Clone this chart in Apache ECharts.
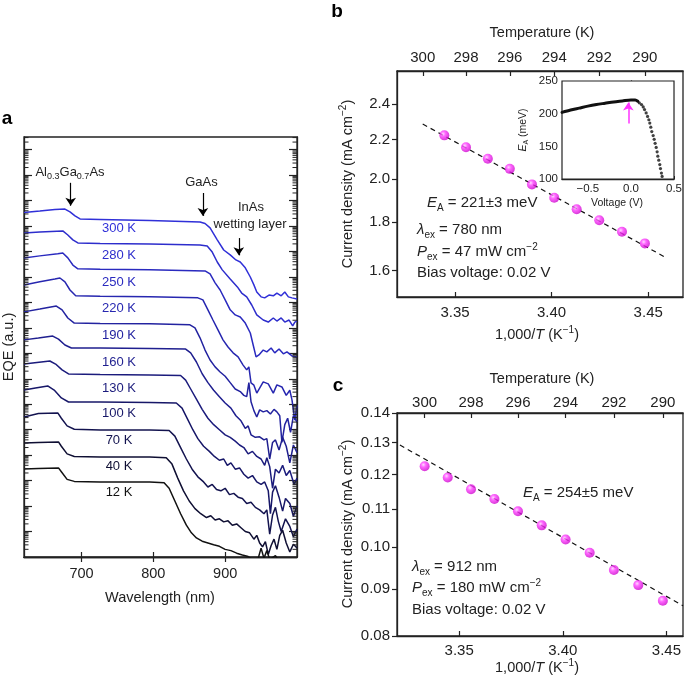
<!DOCTYPE html>
<html><head><meta charset="utf-8">
<script src="https://cdn.jsdelivr.net/npm/echarts@6/dist/echarts.min.js"></script>
<style>html,body{margin:0;padding:0;background:#fff}#c{width:685px;height:685px}</style>
</head><body><div id="c"></div>
<script>
// ---------- Panel a: EQE spectra (log10 EQE, curves offset by decades) ----------
const eqeLabels = ['300 K','280 K','250 K','220 K','190 K','160 K','130 K','100 K','70 K','40 K','12 K'];
const waveTicks = [700, 800, 900];
const eqeDecades = [1,2,3,4,5,6,7,8,9,10,11,12,13,14,15,16];
const minorMultipliers = [2,3,4,5,6,7,8,9];
const eqe300 = [[620,13.53],[642,13.59],[663,13.65],[677,13.67],[684,13.56],[691,13.40],[698,13.28],[726,13.26],[795,13.22],[865,13.16],[872,13.10],[879,12.93],[889,12.46],[898,12.06],[907,11.87],[915,11.67],[921,11.59],[928,11.36],[935,11.00],[940,10.69],[944,10.41],[950,10.22],[955,10.18],[961,10.29],[967,10.26],[972,10.37],[978,10.26],[983,10.41],[988,10.22],[993,10.18],[1000,10.14]];
const eqe280 = [[620,12.73],[642,12.77],[674,12.81],[681,12.65],[688,12.46],[695,12.34],[726,12.32],[795,12.30],[865,12.26],[875,12.22],[882,11.98],[889,11.59],[896,11.28],[907,10.92],[917,10.61],[923,10.37],[930,10.22],[937,9.90],[944,9.51],[953,9.31],[960,9.23],[967,9.39],[972,9.27],[978,9.39],[983,9.23],[989,9.31],[994,9.08],[997,9.23],[1000,9.27]];
const eqe250 = [[620,11.75],[642,11.83],[667,11.91],[674,11.94],[681,11.75],[688,11.47],[695,11.32],[726,11.30],[795,11.28],[872,11.24],[879,11.12],[886,10.77],[893,10.49],[900,10.10],[907,9.71],[914,9.51],[921,9.43],[928,9.19],[935,8.80],[939,8.33],[943,7.86],[947,7.94],[953,8.13],[958,8.06],[964,8.21],[969,8.02],[975,8.17],[981,7.98],[986,8.06],[993,7.90],[1000,7.86]];
const eqe220 = [[620,10.69],[642,10.81],[663,10.92],[670,10.96],[677,10.81],[684,10.49],[692,10.26],[726,10.24],[795,10.22],[862,10.18],[869,10.10],[876,9.71],[883,9.31],[890,8.92],[897,8.53],[904,8.25],[911,8.02],[918,7.86],[925,7.54],[930,7.35],[933,7.47],[936,6.84],[940,6.75],[944,6.44],[953,6.88],[960,6.80],[967,6.44],[972,6.76],[979,6.68],[985,6.35],[990,6.55],[993,6.17],[997,5.38],[1000,5.97]];
const eqe190 = [[620,9.63],[642,9.74],[665,9.86],[673,9.71],[681,9.39],[690,9.19],[726,9.17],[795,9.16],[851,9.12],[858,9.00],[865,8.61],[872,8.13],[879,7.74],[886,7.47],[893,7.27],[900,7.10],[907,6.85],[914,6.60],[921,6.50],[926,6.35],[930,6.30],[933,6.85],[936,6.10],[940,5.75],[944,5.50],[948,5.78],[953,5.70],[958,5.75],[963,5.62],[968,5.80],[972,5.70],[976,5.55],[979,4.50],[983,5.20],[987,5.45],[991,4.90],[995,5.55],[1000,5.30]];
const eqe160 = [[620,8.53],[640,8.60],[660,8.68],[668,8.56],[677,8.33],[686,8.21],[726,8.21],[795,8.19],[845,8.17],[852,8.02],[860,7.66],[868,7.20],[876,6.85],[884,6.55],[892,6.30],[900,6.05],[908,5.85],[915,5.55],[922,5.35],[928,5.05],[932,5.15],[936,4.80],[942,4.70],[948,4.72],[954,4.60],[958,4.65],[962,3.85],[966,4.50],[970,4.60],[975,4.20],[980,4.70],[985,4.35],[990,3.70],[995,4.40],[1000,4.10]];
const eqe130 = [[620,7.58],[638,7.64],[656,7.70],[664,7.58],[673,7.35],[682,7.19],[726,7.17],[795,7.15],[838,7.13],[845,6.95],[852,6.60],[860,6.20],[868,5.80],[876,5.45],[884,5.20],[892,5.00],[900,4.80],[907,4.70],[914,4.55],[920,4.40],[926,4.30],[932,4.05],[938,4.15],[944,3.95],[950,3.85],[955,3.60],[958,3.90],[962,3.55],[966,2.70],[970,3.45],[975,3.30],[980,3.60],[985,3.20],[990,3.40],[996,2.85],[1000,3.10]];
const eqe100 = [[620,6.56],[636,6.64],[653,6.72],[662,6.56],[672,6.25],[682,6.09],[726,6.09],[795,6.07],[832,6.05],[840,5.85],[848,5.40],[855,5.00],[862,4.65],[870,4.35],[878,4.15],[885,3.95],[892,3.80],[898,3.85],[903,3.60],[908,3.70],[914,3.45],[920,3.50],[926,3.25],[932,3.10],[938,3.20],[944,2.95],[950,2.85],[955,2.95],[960,2.60],[963,1.70],[966,2.55],[970,2.80],[975,2.35],[980,1.80],[984,2.30],[990,2.10],[995,1.60],[1000,2.00]];
const eqe70 = [[620,5.50],[640,5.64],[667,5.66],[672,5.45],[680,5.15],[690,5.02],[726,4.99],[795,4.99],[822,4.97],[830,4.75],[838,4.30],[846,3.85],[854,3.45],[862,3.15],[870,2.95],[876,2.75],[882,2.85],[888,2.65],[894,2.60],[900,2.70],[906,2.45],[912,2.50],[918,2.35],[924,2.30],[930,2.10],[936,2.15],[942,1.95],[948,1.85],[954,1.70],[958,1.85],[962,0.90],[966,1.65],[970,1.95],[974,1.40],[978,1.00],[984,1.50],[990,1.20],[995,0.80],[1000,1.10]];
const eqe40 = [[620,4.48],[640,4.50],[668,4.52],[672,4.35],[680,4.05],[690,3.95],[726,3.93],[795,3.93],[818,3.90],[826,3.65],[834,3.10],[842,2.60],[850,2.20],[858,1.90],[866,1.70],[874,1.55],[880,1.62],[886,1.45],[892,1.50],[898,1.38],[904,1.42],[910,1.25],[916,1.30],[922,1.15],[928,1.00],[934,0.95],[940,0.70],[944,0.85],[948,0.55],[952,0.40],[956,0.60],[960,0.10],[964,0.45],[968,0.70],[972,0.30],[976,0.85],[980,1.05],[985,0.55],[990,0.20],[995,0.50],[1000,0.35]];
const eqe12 = [[620,3.46],[640,3.48],[668,3.50],[672,3.35],[680,3.05],[690,2.97],[726,2.95],[795,2.95],[815,2.92],[822,2.70],[830,2.20],[838,1.70],[846,1.25],[853,0.95],[860,0.75],[868,0.62],[876,0.55],[884,0.48],[892,0.42],[900,0.30],[908,0.25],[916,0.15],[924,0.08],[932,0.02],[938,-0.10],[946,-0.05],[950,0.35],[954,-0.05],[958,0.25],[962,-0.10],[970,0.05],[976,-0.20]];
const eqeCurves = [eqe300, eqe280, eqe250, eqe220, eqe190, eqe160, eqe130, eqe100, eqe70, eqe40, eqe12];

// ---------- Panel b ----------
const bTemps = [299,298,297,296,295,294,293,292,291,290];
const bCurrent = [2.223,2.160,2.100,2.049,1.973,1.910,1.857,1.808,1.758,1.709];
const bFit = [[3.3333,2.285],[3.4596,1.649]];
const bYTicks = [1.6,1.8,2.0,2.2,2.4];
const invTTicks = [3.35,3.40,3.45];
const tempTicks = [300,298,296,294,292,290];
// inset: activation energy vs voltage
const insetLineV = [-0.8,-0.7,-0.6,-0.5,-0.4,-0.3,-0.2,-0.1,0.0,0.05,0.08];
const insetLineEA = [202,205.5,208.5,211.5,214,216,218,219.5,221,221,219];
const insetDotV = [0.097,0.123,0.143,0.158,0.177,0.193,0.208,0.219,0.231,0.242,0.258,0.270,0.281,0.293,0.304,0.312,0.323,0.335,0.343,0.354,0.362];
const insetDotEA = [216.6,213.9,210.3,206.2,201.1,195.8,190.7,185.6,179.4,172.6,166.4,160.8,154.6,148.4,141.6,134.9,128.8,122.1,115.9,109.1,104];
const insetXTicks = [-0.5,0,0.5];

// ---------- Panel c ----------
const cTemps = [300,299,298,297,296,295,294,293,292,291,290];
const cCurrent = [0.1225,0.1191,0.1156,0.1128,0.1094,0.1056,0.1019,0.0986,0.0944,0.0909,0.0874];
const cFit = [[3.3214,0.1292],[3.458,0.0863]];
const cYTicks = [0.08,0.09,0.10,0.11,0.12,0.13,0.14];

// ---------- styling ----------
const FF = '"Liberation Sans", Arial, Helvetica, sans-serif';
const INK = '#222';
const eqeColors = ['#3030d8','#2d2dcc','#2a2abf','#2727b0','#2323a0','#1f1f8f','#1b1b7c','#171768','#13134f','#0f0f33','#111111'];
const labelY = [228,255,282,308,335,362,388,413,440,466,492];

function rich(fs, color){
  const s = Math.round(fs*0.68), sl = Math.round(fs*0.68), lh = Math.round(fs*1.35);
  return {
    i:{fontStyle:'italic', fontSize:fs, fontFamily:FF, lineHeight:lh, fill:color},
    sub:{fontSize:s, fontFamily:FF, verticalAlign:'bottom', lineHeight:sl, fill:color},
    sup:{fontSize:s, fontFamily:FF, verticalAlign:'top', lineHeight:sl, fill:color}
  };
}
function T(x, y, text, o){
  o = o || {};
  const fs = o.fs || 15, col = o.color || INK;
  return {type:'text', x:x, y:y, rotation:o.rot||0, z:100, silent:true,
    style:{text:text, fill:col, fontFamily:FF, fontSize:fs, fontWeight:o.fw||'normal',
      align:o.align||'center', verticalAlign:'middle', lineHeight:Math.round(fs*1.35), rich:rich(fs,col)}};
}
const axLine = {show:true, lineStyle:{color:INK, width:1.3}};
const lbl = (fs, margin, extra) => Object.assign({color:INK, fontFamily:FF, fontSize:fs, margin:margin}, extra||{});
const log = Math.log10;

// log-style minor tick positions of panel a (in decades)
const minorTicks = [];
[0].concat(eqeDecades).forEach(n => minorMultipliers.forEach(m => { const v = n + log(m); if (v < 16.5) minorTicks.push(v); }));

const sphere = {type:'radial', x:0.38, y:0.35, r:0.7, colorStops:[{offset:0,color:'#ffd0ff'},{offset:0.35,color:'#ff40ff'},{offset:1,color:'#c800c8'}]};

const series = [];
eqeCurves.forEach((c, i) => {
  series.push({type:'line', xAxisIndex:0, yAxisIndex:0, data:c, showSymbol:false, symbol:'none',
    lineStyle:{color:eqeColors[i], width:1.5}, clip:true, z:3,
    markLine: i === 0 ? {silent:true, symbol:['none','arrow'], symbolSize:8, label:{show:false},
      lineStyle:{color:'#000', width:1.2, type:'solid'},
      data:[[{coord:[685,14.70]},{coord:[685,13.80]}],[{coord:[869,14.30]},{coord:[869,13.40]}],[{coord:[919,12.53]},{coord:[919,11.85]}]]} : undefined});
});
// minor (log-spaced) ticks on both sides of panel a
series.push({type:'custom', xAxisIndex:0, yAxisIndex:0, silent:true, clip:false, z:4,
  data:minorTicks.map(v=>[620, v]),
  renderItem:(params, api) => {
    const v = api.value(1);
    const l = api.coord([620, v]), r = api.coord([1000, v]);
    return {type:'group', children:[
      {type:'line', shape:{x1:l[0], y1:l[1], x2:l[0]+4.5, y2:l[1]}, style:{stroke:INK, lineWidth:1}},
      {type:'line', shape:{x1:r[0]-4.5, y1:r[1], x2:r[0], y2:r[1]}, style:{stroke:INK, lineWidth:1}}
    ]};
  }});
// panel b
series.push({type:'line', xAxisIndex:2, yAxisIndex:2, data:bFit.map(p=>[p[0], log(p[1])]), symbol:'none',
  lineStyle:{color:'#111', width:1.2, type:[5,4]}, z:3});
series.push({type:'scatter', xAxisIndex:2, yAxisIndex:2, data:bTemps.map((t,i)=>[1000/t, log(bCurrent[i])]),
  symbolSize:10, itemStyle:{color:sphere}, z:4});
// inset
series.push({type:'line', xAxisIndex:4, yAxisIndex:3, data:insetLineV.map((v,i)=>[v, insetLineEA[i]]), symbol:'none', smooth:0.3,
  lineStyle:{color:'#111', width:3, cap:'round'}, z:6,
  markLine:{silent:true, symbol:['none','arrow'], symbolSize:8, label:{show:false},
    lineStyle:{color:'#ff33ff', width:1.5, type:'solid'},
    data:[[{coord:[-0.03,185]},{coord:[-0.03,217]}]]}});
series.push({type:'scatter', xAxisIndex:4, yAxisIndex:3, data:insetDotV.map((v,i)=>[v, insetDotEA[i]]),
  symbolSize:3.2, itemStyle:{color:'#111'}, z:6});
// panel c
series.push({type:'line', xAxisIndex:5, yAxisIndex:4, data:cFit.map(p=>[p[0], log(p[1])]), symbol:'none',
  lineStyle:{color:'#111', width:1.2, type:[5,4]}, z:3});
series.push({type:'scatter', xAxisIndex:5, yAxisIndex:4, data:cTemps.map((t,i)=>[1000/t, log(cCurrent[i])]),
  symbolSize:10, itemStyle:{color:sphere}, z:4});

const invT = tempTicks.map(t => 1000/t);
const xAxis = [
  {gridIndex:0, type:'value', min:620, max:1000, axisLine:axLine, splitLine:{show:false},
    axisTick:{inside:true, length:5, customValues:waveTicks, lineStyle:{color:INK, width:1.2}},
    axisLabel:lbl(14.5, 9, {customValues:waveTicks})},
  {gridIndex:0, type:'value', position:'top', min:620, max:1000, axisLine:axLine, splitLine:{show:false},
    axisTick:{inside:true, length:5, customValues:waveTicks, lineStyle:{color:INK, width:1.2}}, axisLabel:{show:false}},
  {gridIndex:1, type:'value', min:3.32, max:3.468, axisLine:axLine, splitLine:{show:false},
    axisTick:{inside:true, length:5, customValues:invTTicks, lineStyle:{color:INK, width:1.2}},
    axisLabel:lbl(15, 8, {customValues:invTTicks, formatter:v=>v.toFixed(2)})},
  {gridIndex:1, type:'value', position:'top', min:3.32, max:3.468, axisLine:axLine, splitLine:{show:false},
    axisTick:{inside:true, length:5, customValues:invT, lineStyle:{color:INK, width:1.2}},
    axisLabel:lbl(15, 6, {customValues:invT, formatter:v=>String(Math.round(1000/v))})},
  {gridIndex:2, type:'value', min:-0.8, max:0.5, axisLine:axLine, splitLine:{show:false},
    axisTick:{inside:true, length:3, customValues:insetXTicks, lineStyle:{color:INK}},
    axisLabel:lbl(11.5, 4, {customValues:insetXTicks, formatter:v=> v<0 ? '\u2212'+Math.abs(v).toFixed(1) : v.toFixed(1)})},
  {gridIndex:3, type:'value', min:3.32, max:3.458, axisLine:axLine, splitLine:{show:false},
    axisTick:{inside:true, length:5, customValues:invTTicks, lineStyle:{color:INK, width:1.2}},
    axisLabel:lbl(15, 7.5, {customValues:invTTicks, formatter:v=>v.toFixed(2)})},
  {gridIndex:3, type:'value', position:'top', min:3.32, max:3.458, axisLine:axLine, splitLine:{show:false},
    axisTick:{inside:true, length:5, customValues:invT, lineStyle:{color:INK, width:1.2}},
    axisLabel:lbl(15, 3, {customValues:invT, formatter:v=>String(Math.round(1000/v))})}
];
const yAxis = [
  {gridIndex:0, type:'value', min:0, max:16.5, axisLine:axLine, splitLine:{show:false},
    axisTick:{inside:true, length:8, customValues:eqeDecades, lineStyle:{color:INK, width:1.2}}, axisLabel:{show:false}},
  {gridIndex:0, type:'value', position:'right', min:0, max:16.5, axisLine:axLine, splitLine:{show:false},
    axisTick:{inside:true, length:8, customValues:eqeDecades, lineStyle:{color:INK, width:1.2}}, axisLabel:{show:false}},
  {gridIndex:1, type:'value', min:log(1.5), max:log(2.6), axisLine:axLine, splitLine:{show:false},
    axisTick:{inside:false, length:5, customValues:bYTicks.map(log), lineStyle:{color:INK, width:1.2}},
    axisLabel:lbl(15, 7, {customValues:bYTicks.map(log), formatter:v=>Math.pow(10,v).toFixed(1)})},
  {gridIndex:2, type:'value', min:100, max:250, interval:50, axisLine:axLine, splitLine:{show:false},
    axisTick:{inside:true, length:3, lineStyle:{color:INK}}, axisLabel:lbl(11.5, 4)},
  {gridIndex:3, type:'value', min:log(0.08), max:log(0.14), axisLine:axLine, splitLine:{show:false},
    axisTick:{inside:false, length:5, customValues:cYTicks.map(log), lineStyle:{color:INK, width:1.2}},
    axisLabel:lbl(15, 7, {customValues:cYTicks.map(log), formatter:v=>Math.pow(10,v).toFixed(2)})}
];

const g = [];
g.push(T(7,119,'a',{fs:19, fw:'bold', color:'#000'}));
g.push(T(337,12,'b',{fs:19, fw:'bold', color:'#000'}));
g.push(T(338,386,'c',{fs:19, fw:'bold', color:'#000'}));
// panel a texts
g.push(T(9,347,'EQE (a.u.)',{fs:14.5, rot:Math.PI/2}));
g.push(T(160,598,'Wavelength (nm)',{fs:14.5}));
eqeLabels.forEach((s,i)=> g.push(T(119,labelY[i],s,{fs:13, color:eqeColors[i]})));
g.push(T(70,172,'Al{sub|0.3}Ga{sub|0.7}As',{fs:13}));
g.push(T(201.5,182,'GaAs',{fs:13}));
g.push(T(251,207,'InAs',{fs:13}));
g.push(T(250,224,'wetting layer',{fs:13}));
// panel b texts
g.push(T(542,33,'Temperature (K)',{fs:14.5}));
g.push(T(537,335,'1,000/{i|T} (K{sup|\u22121})',{fs:14.5}));
g.push(T(348,184,'Current density (mA cm{sup|\u22122})',{fs:14.5, rot:Math.PI/2}));
g.push(T(427,203,'{i|E}{sub|A} = 221\u00b13 meV',{fs:15, align:'left'}));
g.push(T(417,230,'{i|\u03bb}{sub|ex} = 780 nm',{fs:15, align:'left'}));
g.push(T(417,252,'{i|P}{sub|ex} = 47 mW cm{sup|\u22122}',{fs:15, align:'left'}));
g.push(T(417,273,'Bias voltage: 0.02 V',{fs:15, align:'left'}));
g.push(T(617,203,'Voltage (V)',{fs:10.5}));
g.push(T(523,130,'{i|E}{sub|A} (meV)',{fs:10.5, rot:Math.PI/2}));
// panel c texts
g.push(T(542,379,'Temperature (K)',{fs:14.5}));
g.push(T(537,668,'1,000/{i|T} (K{sup|\u22121})',{fs:14.5}));
g.push(T(348,524,'Current density (mA cm{sup|\u22122})',{fs:14.5, rot:Math.PI/2}));
g.push(T(523,493,'{i|E}{sub|A} = 254\u00b15 meV',{fs:15, align:'left'}));
g.push(T(412,567,'{i|\u03bb}{sub|ex} = 912 nm',{fs:15, align:'left'}));
g.push(T(412,588,'{i|P}{sub|ex} = 180 mW cm{sup|\u22122}',{fs:15, align:'left'}));
g.push(T(412,610,'Bias voltage: 0.02 V',{fs:15, align:'left'}));

const chart = echarts.init(document.getElementById('c'));
chart.setOption({
  animation:false, backgroundColor:'#fff',
  textStyle:{fontFamily:FF},
  grid:[
    {left:24, top:137, width:273, height:420, show:true, borderColor:INK, borderWidth:1.3, backgroundColor:'transparent'},
    {left:397, top:71, width:286, height:226, show:true, borderColor:INK, borderWidth:1.3, backgroundColor:'transparent'},
    {left:562, top:81, width:114, height:98, show:true, borderColor:INK, borderWidth:1.2, backgroundColor:'#fff', z:5},
    {left:397, top:413, width:286, height:223, show:true, borderColor:INK, borderWidth:1.3, backgroundColor:'transparent'}
  ],
  xAxis:xAxis, yAxis:yAxis, series:series,
  graphic:{elements:g}
});
</script></body></html>
